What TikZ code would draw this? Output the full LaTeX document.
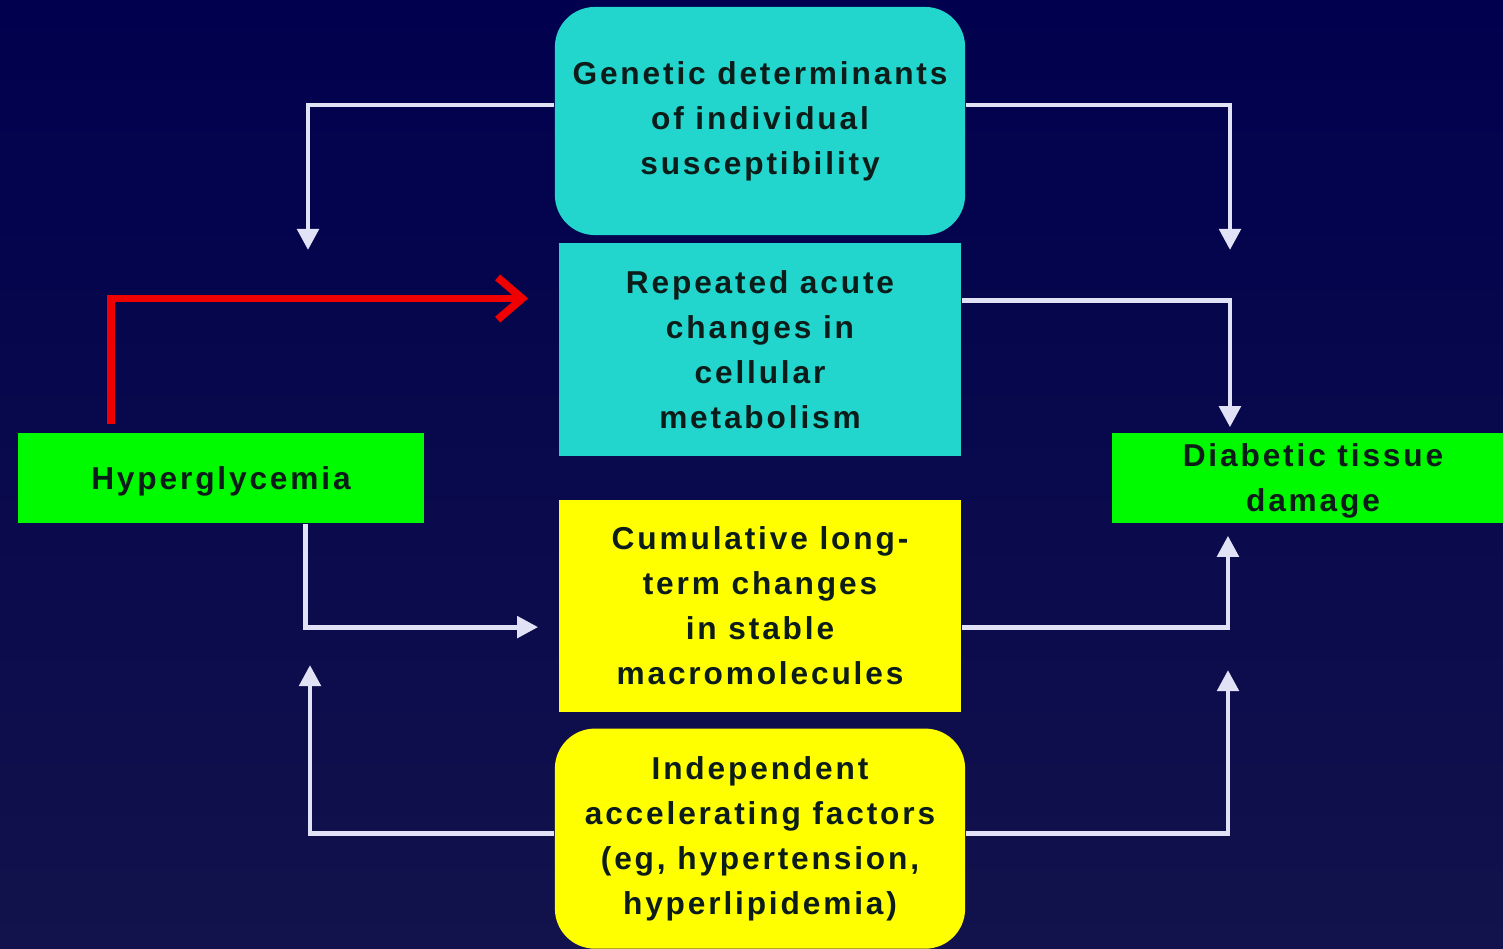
\documentclass[tikz,border=0pt]{standalone}
\usepackage{fontspec}
\setmainfont{Liberation Sans}[LetterSpace=9]
\usetikzlibrary{arrows.meta,positioning}
\definecolor{bgtop}{RGB}{0,0,78}
\definecolor{bgmid}{RGB}{0,0,110}
\definecolor{bgbot}{RGB}{18,18,76}
\definecolor{tealbox}{RGB}{34,214,206}
\definecolor{greenbox}{RGB}{0,250,0}
\definecolor{yellowbox}{RGB}{255,255,0}
\definecolor{inktext}{RGB}{12,28,24}
\definecolor{wirecol}{RGB}{226,226,246}
\definecolor{redwire}{RGB}{240,0,0}

\begin{document}
\begin{tikzpicture}[x=0.01cm,y=-0.01cm,
  font=\bfseries\fontsize{9}{12.8}\selectfont,
  box/.style={fill=#1,text=inktext,align=center,inner sep=0pt},
  wire/.style={draw=wirecol,line width=1.4pt,-{Triangle[width=6pt,length=6pt]}},
  redarrow/.style={draw=redwire,line width=2.2pt,-{Straight Barb[width=12pt,length=7pt]}}]
% background
\shade[top color=bgtop,middle color=bgmid,bottom color=bgbot] (0,0) rectangle (1503,948);
\useasboundingbox (0,0) rectangle (1503,948);

% middle column
\node[box=tealbox,rounded corners=0.4cm,minimum width=4.1cm,minimum height=2.28cm] (gen) at (760,121)
  {Genetic determinants\\of individual\\susceptibility};
\node[box=tealbox,minimum width=4.02cm,minimum height=2.12cm,below=0.07cm of gen] (rep)
  {Repeated acute\\changes in\\cellular\\metabolism};
\node[box=yellowbox,minimum width=4.02cm,minimum height=2.12cm,below=0.43cm of rep] (cum)
  {Cumulative long-\\term changes\\in stable\\macromolecules};
\node[box=yellowbox,rounded corners=0.4cm,minimum width=4.1cm,minimum height=2.2cm,below=0.15cm of cum] (ind)
  {Independent\\accelerating factors\\(eg, hypertension,\\hyperlipidemia)};

% sides
\node[box=greenbox,minimum width=4.06cm,minimum height=0.9cm,text depth=-2.2pt] (hyp) at (221,478) {Hyperglycemia};
\node[box=greenbox,minimum width=4.02cm,minimum height=0.9cm,text depth=-2.2pt] (dia) at (1313,478) {Diabetic tissue\\damage};

\coordinate (gl) at (308,250);
\coordinate (gr) at (1230,250);
\coordinate (il) at (310,665);
\coordinate (ir) at (1228,670);

% connectors
\draw[wire] ([yshift=0.16cm]gen.west) -| (gl);
\draw[wire] ([yshift=0.16cm]gen.east) -| (gr);
\draw[wire] ([yshift=0.49cm]rep.east) -| ([xshift=-0.83cm,yshift=0.05cm]dia.north);
\draw[wire] ([xshift=0.84cm]hyp.south) |- ([xshift=-0.2cm,yshift=-0.21cm]cum.west);
\draw[wire] ([yshift=-0.21cm]cum.east) -| ([xshift=-0.85cm,yshift=-0.12cm]dia.south);
\draw[wire] ([yshift=0.05cm]ind.west) -| (il);
\draw[wire] ([yshift=0.05cm]ind.east) -| (ir);
\draw[redarrow] ([xshift=0.94cm,yshift=0.08cm]hyp.north west) |- ([xshift=-0.3cm,yshift=0.51cm]rep.west);
\end{tikzpicture}
\end{document}
